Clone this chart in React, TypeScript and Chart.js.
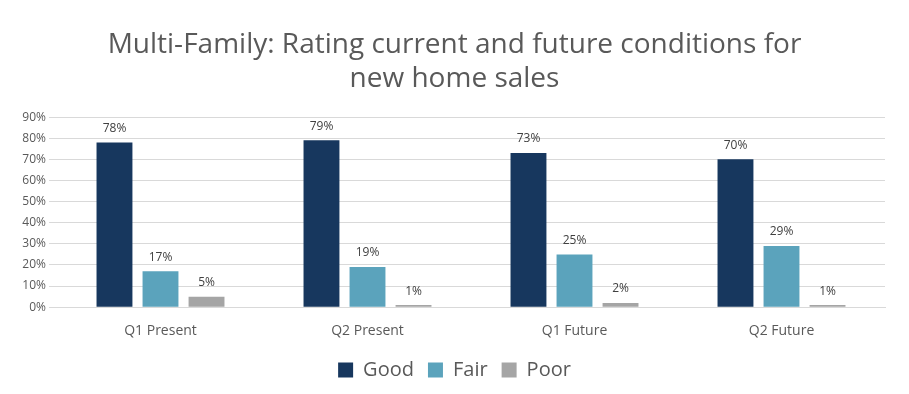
import React, { useEffect, useRef } from "react";
import { Chart, registerables } from "chart.js";

Chart.register(...registerables);

const categories = ["Q1 Present", "Q2 Present", "Q1 Future", "Q2 Future"];
const good = [78, 79, 73, 70];
const fair = [17, 19, 25, 29];
const poor = [5, 1, 2, 1];
const titleLines = ["Multi-Family: Rating current and future conditions for", "new home sales"];

const labelPlugin = {
  id: "barLabels",
  afterDatasetsDraw(chart: any) {
    const ctx = chart.ctx;
    ctx.save();
    ctx.font = "12px 'Open Sans', sans-serif";
    ctx.fillStyle = "#404040";
    ctx.textAlign = "center";
    ctx.textBaseline = "bottom";
    chart.data.datasets.forEach((ds: any, i: number) => {
      const meta = chart.getDatasetMeta(i);
      meta.data.forEach((bar: any, j: number) => {
        ctx.fillText(ds.data[j] + "%", bar.x, bar.y - 8);
      });
    });
    ctx.restore();
  },
};

export default function App() {
  const ref = useRef<HTMLCanvasElement>(null);
  useEffect(() => {
    document.body.style.margin = "0";
    const chart = new Chart(ref.current!, {
      type: "bar",
      data: {
        labels: categories,
        datasets: [
          { label: "Good", data: good, backgroundColor: "#17375E" },
          { label: "Fair", data: fair, backgroundColor: "#5BA3BC" },
          { label: "Poor", data: poor, backgroundColor: "#A5A5A5" },
        ],
      },
      options: {
        animation: false,
        responsive: false,
        devicePixelRatio: 1,
        layout: { padding: { left: 17, right: 17, top: 0, bottom: 4 } },
        datasets: { bar: { categoryPercentage: 0.667, barPercentage: 0.78 } },
        plugins: {
          title: {
            display: true,
            text: titleLines,
            color: "#595959",
            font: { family: "'Open Sans', sans-serif", size: 28, weight: "normal", lineHeight: 1.18 },
            padding: { top: 29, bottom: 22 },
          },
          legend: {
            position: "bottom",
            labels: {
              color: "#595959",
              font: { family: "'Open Sans', sans-serif", size: 20 },
              boxWidth: 15,
              boxHeight: 15,
              padding: 14,
            },
          },
          tooltip: { enabled: false },
        },
        scales: {
          x: {
            grid: { display: false },
            border: { color: "#D9D9D9" },
            ticks: { color: "#595959", font: { family: "'Open Sans', sans-serif", size: 14 }, padding: 7 },
          },
          y: {
            min: 0,
            max: 90,
            border: { display: false },
            grid: { color: "#D9D9D9" },
            ticks: {
              stepSize: 10,
              color: "#595959",
              font: { family: "'Open Sans', sans-serif", size: 12 },
              callback: (v: any) => v + "%",
            },
            afterFit: (s: any) => { s.width = 40; },
          },
          spacer: {
            type: "linear",
            position: "right",
            display: true,
            grid: { display: false },
            border: { display: false },
            ticks: { display: false },
            afterFit: (s: any) => { s.width = 7; },
          },
        },
      },
      plugins: [labelPlugin],
    });
    return () => chart.destroy();
  }, []);
  return (
    <div style={{ position: "absolute", left: 0, top: 0, width: 909, height: 394, background: "#fff" }}>
      <canvas ref={ref} width={909} height={394} />
    </div>
  );
}
